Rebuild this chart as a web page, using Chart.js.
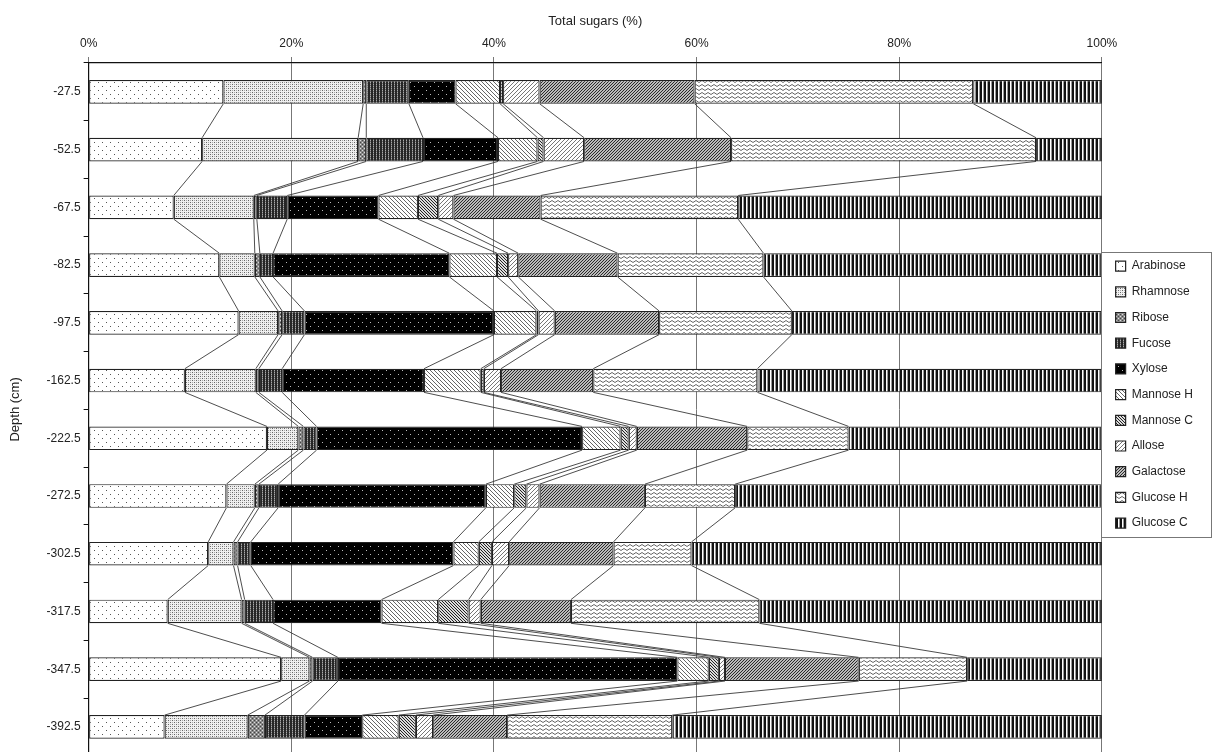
<!DOCTYPE html>
<html lang="en">
<head>
    <meta charset="UTF-8">
    <title>Total sugars by depth</title>
    <script src="https://cdn.jsdelivr.net/npm/chart.js"></script>
    <style>
        body {
            margin: 0;
            background: #fff;
            overflow: hidden;
        }
        .chart-box {
            width: 1213px;
            height: 766px;
        }
    </style>
</head>
<body>
    <div class="chart-box">
        <canvas id="sugarChart"></canvas>
    </div>

    <script>
        // Depth labels (cm) and each sugar's share of total sugars (%)
        const depths = ['-27.5', '-52.5', '-67.5', '-82.5', '-97.5', '-162.5', '-222.5', '-272.5', '-302.5', '-317.5', '-347.5', '-392.5'];
        const xTicks = [0, 20, 40, 60, 80, 100];

        const arabinose = [13.3, 11.2, 8.4, 12.9, 14.8, 9.5, 17.6, 13.6, 11.8, 7.8, 19.0, 7.5];
        const rhamnose  = [13.8, 15.4, 7.9, 3.5, 3.9, 7.0, 3.1, 2.8, 2.5, 7.3, 2.8, 8.2];
        const ribose    = [0.3, 0.8, 0.3, 0.5, 0.4, 0.3, 0.5, 0.4, 0.4, 0.3, 0.3, 1.7];
        const fucose    = [4.2, 5.6, 3.0, 1.3, 2.2, 2.3, 1.3, 1.9, 1.3, 2.8, 2.5, 3.9];
        const xylose    = [4.6, 7.4, 9.0, 17.4, 18.7, 14.0, 26.2, 20.5, 20.0, 10.7, 33.5, 5.7];
        const mannoseH  = [4.4, 3.9, 3.9, 4.7, 4.2, 5.6, 3.8, 2.8, 2.5, 5.6, 3.1, 3.6];
        const mannoseC  = [0.3, 0.6, 2.0, 1.1, 0.2, 0.3, 0.8, 1.2, 1.3, 3.0, 1.0, 1.7];
        const allose    = [3.6, 4.0, 1.5, 1.0, 1.6, 1.7, 0.8, 1.3, 1.7, 1.2, 0.6, 1.7];
        const galactose = [15.3, 14.5, 8.6, 9.8, 10.3, 9.1, 10.9, 10.4, 10.3, 8.9, 13.2, 7.3];
        const glucoseH  = [27.5, 30.1, 19.5, 14.4, 13.1, 16.2, 10.0, 8.9, 7.7, 18.6, 10.7, 16.3];
        const glucoseC  = [12.7, 6.5, 35.9, 33.4, 30.6, 34.0, 25.0, 36.2, 40.5, 33.8, 13.3, 42.4];

        const fontFamily = 'Arial, "Liberation Sans", Helvetica, sans-serif';

        // small tiles turned into canvas patterns (black & white print style)
        function makePattern(w, h, draw) {
            const tile = document.createElement('canvas');
            tile.width = w;
            tile.height = h;
            const t = tile.getContext('2d');
            draw(t, w, h);
            return document.createElement('canvas').getContext('2d').createPattern(tile, 'repeat');
        }

        function px(t, color, pts) {
            t.fillStyle = color;
            pts.forEach(p => t.fillRect(p[0], p[1], 1, 1));
        }

        const patterns = {
            arabinose: makePattern(8, 8, (t, w, h) => {
                t.fillStyle = '#fff'; t.fillRect(0, 0, w, h);
                px(t, '#555', [[2, 2], [6, 6]]);
            }),
            rhamnose: makePattern(4, 4, (t, w, h) => {
                t.fillStyle = '#f0f0f0'; t.fillRect(0, 0, w, h);
                px(t, '#666', [[0, 0], [2, 2]]);
                px(t, '#aaa', [[2, 0], [0, 2]]);
            }),
            ribose: makePattern(4, 4, (t, w, h) => {
                t.fillStyle = '#888'; t.fillRect(0, 0, w, h);
                px(t, '#ddd', [[0, 0], [2, 2]]);
                px(t, '#444', [[2, 0], [0, 2]]);
            }),
            fucose: makePattern(3, 2, (t, w, h) => {
                t.fillStyle = '#262626'; t.fillRect(0, 0, w, h);
                px(t, '#aaa', [[1, 0]]);
                px(t, '#666', [[1, 1]]);
            }),
            xylose: makePattern(8, 8, (t, w, h) => {
                t.fillStyle = '#000'; t.fillRect(0, 0, w, h);
                px(t, '#bbb', [[2, 2], [6, 6]]);
            }),
            mannoseH: makePattern(4, 4, (t, w, h) => {
                t.fillStyle = '#fff'; t.fillRect(0, 0, w, h);
                px(t, '#666', [[0, 0], [1, 1], [2, 2], [3, 3]]);
            }),
            mannoseC: makePattern(3, 3, (t, w, h) => {
                t.fillStyle = '#ddd'; t.fillRect(0, 0, w, h);
                px(t, '#222', [[0, 0], [1, 1], [2, 2]]);
            }),
            allose: makePattern(4, 4, (t, w, h) => {
                t.fillStyle = '#fff'; t.fillRect(0, 0, w, h);
                px(t, '#777', [[3, 0], [2, 1], [1, 2], [0, 3]]);
            }),
            galactose: makePattern(3, 3, (t, w, h) => {
                t.fillStyle = '#bbb'; t.fillRect(0, 0, w, h);
                px(t, '#2a2a2a', [[2, 0], [1, 1], [0, 2]]);
            }),
            glucoseH: makePattern(6, 4, (t, w, h) => {
                t.fillStyle = '#fff'; t.fillRect(0, 0, w, h);
                t.strokeStyle = '#666';
                t.lineWidth = 1;
                t.beginPath();
                t.moveTo(0, 0.5); t.lineTo(3, 2.5); t.lineTo(6, 0.5);
                t.stroke();
            }),
            glucoseC: makePattern(4, 1, (t, w, h) => {
                t.fillStyle = '#111'; t.fillRect(0, 0, 2, 1);
                t.fillStyle = '#fff'; t.fillRect(2, 0, 1, 1);
                t.fillStyle = '#999'; t.fillRect(3, 0, 1, 1);
            })
        };

        const series = [
            ['Arabinose', arabinose, patterns.arabinose],
            ['Rhamnose', rhamnose, patterns.rhamnose],
            ['Ribose', ribose, patterns.ribose],
            ['Fucose', fucose, patterns.fucose],
            ['Xylose', xylose, patterns.xylose],
            ['Mannose H', mannoseH, patterns.mannoseH],
            ['Mannose C', mannoseC, patterns.mannoseC],
            ['Allose', allose, patterns.allose],
            ['Galactose', galactose, patterns.galactose],
            ['Glucose H', glucoseH, patterns.glucoseH],
            ['Glucose C', glucoseC, patterns.glucoseC]
        ];

        const datasets = series.map(s => ({
            label: s[0],
            data: s[1],
            backgroundColor: s[2],
            borderColor: '#222',
            borderWidth: 1.2,
            borderSkipped: false,
            barPercentage: 0.41,
            categoryPercentage: 1
        }));

        // series lines joining segment edges of neighbouring bars
        const seriesLines = {
            id: 'seriesLines',
            afterDatasetsDraw(chart) {
                const ctx = chart.ctx;
                ctx.save();
                ctx.strokeStyle = '#3a3a3a';
                ctx.lineWidth = 0.9;
                chart.data.datasets.forEach((ds, d) => {
                    if (d === chart.data.datasets.length - 1) return;
                    const bars = chart.getDatasetMeta(d).data;
                    for (let i = 0; i < bars.length - 1; i++) {
                        const a = bars[i], b = bars[i + 1];
                        ctx.beginPath();
                        ctx.moveTo(a.x, a.y + a.height / 2);
                        ctx.lineTo(b.x, b.y - b.height / 2);
                        ctx.stroke();
                    }
                });
                ctx.restore();
            }
        };

        // frame round the legend items
        const legendFrame = {
            id: 'legendFrame',
            afterDraw(chart) {
                const boxes = chart.legend && chart.legend.legendHitBoxes;
                if (!boxes || !boxes.length) return;
                const first = boxes[0], last = boxes[boxes.length - 1];
                const left = first.left - 15;
                const top = first.top - 8;
                const bottom = last.top + last.height + 8;
                const ctx = chart.ctx;
                ctx.save();
                ctx.strokeStyle = '#777';
                ctx.lineWidth = 1;
                ctx.strokeRect(Math.round(left) + 0.5, Math.round(top) + 0.5, 110, Math.round(bottom - top));
                ctx.restore();
            }
        };

        const ctx = document.getElementById('sugarChart').getContext('2d');
        const myChart = new Chart(ctx, {
            type: 'bar',
            data: { labels: depths, datasets: datasets },
            plugins: [seriesLines, legendFrame],
            options: {
                indexAxis: 'y',
                responsive: true,
                maintainAspectRatio: false,
                animation: false,
                layout: { padding: { top: 11, left: 8, right: 10, bottom: 2 } },
                plugins: {
                    tooltip: { enabled: false },
                    legend: {
                        position: 'right',
                        align: 'start',
                        title: {
                            display: true,
                            text: '',
                            padding: { top: 221, bottom: 0 }
                        },
                        labels: {
                            color: '#222',
                            font: { family: fontFamily, size: 12 },
                            boxWidth: 10,
                            boxHeight: 10,
                            padding: 13.7
                        }
                    }
                },
                scales: {
                    x: {
                        position: 'top',
                        stacked: true,
                        min: 0,
                        max: 100,
                        afterBuildTicks: axis => {
                            axis.ticks = xTicks.map(v => ({ value: v }));
                        },
                        ticks: {
                            color: '#222',
                            font: { family: fontFamily, size: 12 },
                            padding: 6,
                            callback: v => v + '%'
                        },
                        grid: {
                            color: '#777',
                            lineWidth: 1,
                            tickLength: 6
                        },
                        border: { color: '#111', width: 1.2 },
                        title: {
                            display: true,
                            text: 'Total sugars (%)',
                            color: '#222',
                            font: { family: fontFamily, size: 13 },
                            padding: { top: 3, bottom: 1 }
                        }
                    },
                    y: {
                        stacked: true,
                        offset: true,
                        ticks: {
                            color: '#222',
                            font: { family: fontFamily, size: 12 },
                            padding: 3
                        },
                        grid: {
                            offset: true,
                            drawOnChartArea: false,
                            color: '#111',
                            tickLength: 5
                        },
                        border: { color: '#111', width: 1.2 },
                        title: {
                            display: true,
                            text: 'Depth (cm)',
                            color: '#222',
                            font: { family: fontFamily, size: 13 },
                            padding: { top: 0, bottom: 20 }
                        }
                    }
                }
            }
        });
    </script>
</body>
</html>
